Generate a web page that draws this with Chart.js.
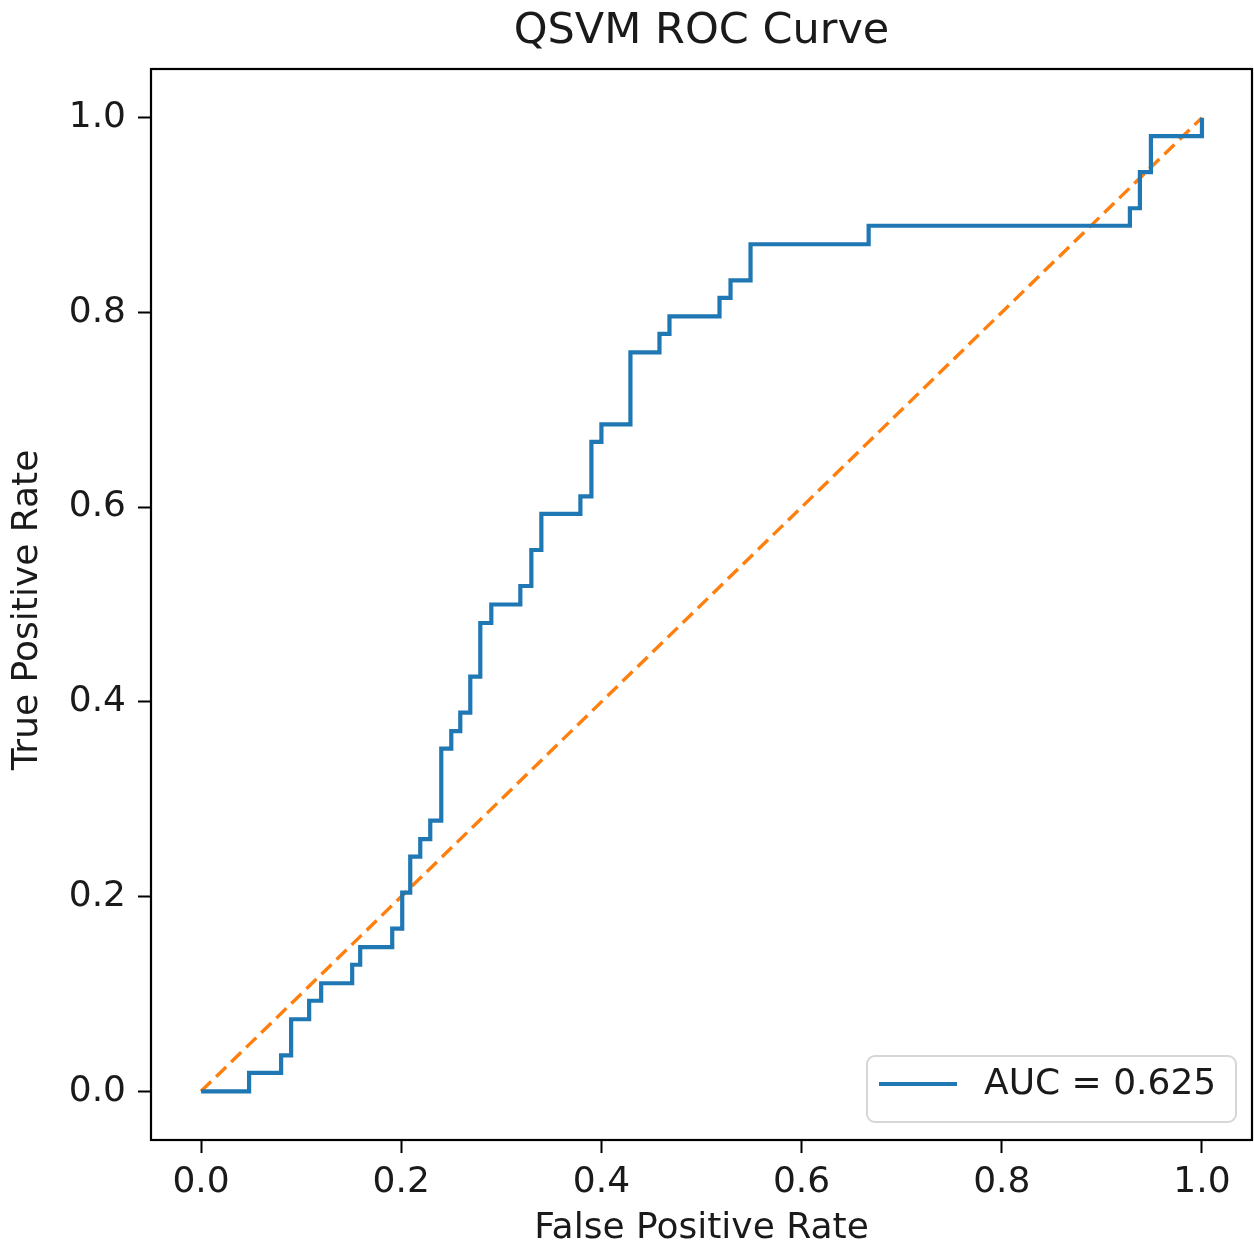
<!DOCTYPE html>
<html>
<head>
<meta charset="utf-8">
<script src="https://cdn.jsdelivr.net/npm/chart.js@4"></script>
<style>
  html, body { margin: 0; padding: 0; background: #fff; }
  #roc { display: block; }
</style>
</head>
<body>
<canvas id="roc" width="1254" height="1248"></canvas>
<script>
/* ===============================
   DATA
================================ */
const fpr = [
  0.000, 0.048, 0.048, 0.080, 0.080, 0.090, 0.090, 0.108, 0.108, 0.120,
  0.120, 0.151, 0.151, 0.159, 0.159, 0.191, 0.191, 0.201, 0.201, 0.209,
  0.209, 0.219, 0.219, 0.229, 0.229, 0.240, 0.240, 0.250, 0.250, 0.259,
  0.259, 0.269, 0.269, 0.279, 0.279, 0.290, 0.290, 0.319, 0.319, 0.330,
  0.330, 0.340, 0.340, 0.379, 0.379, 0.390, 0.390, 0.400, 0.400, 0.429,
  0.429, 0.458, 0.458, 0.468, 0.468, 0.518, 0.518, 0.529, 0.529, 0.549,
  0.549, 0.667, 0.667, 0.928, 0.928, 0.938, 0.938, 0.949, 0.949, 1.000,
  1.000
];
const tpr = [
  0.000, 0.000, 0.019, 0.019, 0.037, 0.037, 0.074, 0.074, 0.093, 0.093,
  0.111, 0.111, 0.130, 0.130, 0.148, 0.148, 0.167, 0.167, 0.204, 0.204,
  0.241, 0.241, 0.259, 0.259, 0.278, 0.278, 0.352, 0.352, 0.370, 0.370,
  0.389, 0.389, 0.426, 0.426, 0.481, 0.481, 0.500, 0.500, 0.519, 0.519,
  0.556, 0.556, 0.593, 0.593, 0.611, 0.611, 0.667, 0.667, 0.685, 0.685,
  0.759, 0.759, 0.778, 0.778, 0.796, 0.796, 0.815, 0.815, 0.833, 0.833,
  0.870, 0.870, 0.889, 0.889, 0.907, 0.907, 0.944, 0.944, 0.981, 0.981,
  1.000
];
const chanceX = [0, 1];
const chanceY = [0, 1];
const tickValues = [0, 0.2, 0.4, 0.6, 0.8, 1.0];
const aucLabel = "AUC = 0.625";

/* ===============================
   STYLE CONSTANTS
================================ */
const FONT = "'DejaVu Sans', sans-serif";
const TEXT = "#1a1a1a";
const BLUE = "#1f77b4";
const ORANGE = "#ff7f0e";
const AREA = { left: 151, right: 1252, top: 69, bottom: 1140 };

/* ===============================
   PLUGINS
================================ */
// frame round the plot, title, axis labels, legend box
const decorations = {
  id: "decorations",
  afterDraw(chart) {
    const ctx = chart.ctx;
    const a = chart.chartArea;
    ctx.save();

    ctx.strokeStyle = "#000";
    ctx.lineWidth = 2.2;
    ctx.strokeRect(a.left, a.top, a.right - a.left, a.bottom - a.top);

    ctx.fillStyle = TEXT;
    ctx.textAlign = "center";
    ctx.textBaseline = "middle";
    ctx.font = "43px " + FONT;
    ctx.fillText("QSVM ROC Curve", (a.left + a.right) / 2, 32);

    ctx.font = "36px " + FONT;
    ctx.fillText("False Positive Rate", (a.left + a.right) / 2, 1229);

    ctx.save();
    ctx.translate(28, 610);
    ctx.rotate(-Math.PI / 2);
    ctx.fillText("True Positive Rate", 0, 0);
    ctx.restore();

    // legend
    const lx = 867, ly = 1056, lw = 369, lh = 66, r = 8;
    ctx.beginPath();
    ctx.moveTo(lx + r, ly);
    ctx.arcTo(lx + lw, ly, lx + lw, ly + lh, r);
    ctx.arcTo(lx + lw, ly + lh, lx, ly + lh, r);
    ctx.arcTo(lx, ly + lh, lx, ly, r);
    ctx.arcTo(lx, ly, lx + lw, ly, r);
    ctx.closePath();
    ctx.fillStyle = "rgba(255,255,255,0.8)";
    ctx.fill();
    ctx.strokeStyle = "#d6d6d6";
    ctx.lineWidth = 2;
    ctx.stroke();

    ctx.strokeStyle = BLUE;
    ctx.lineWidth = 4.2;
    ctx.beginPath();
    ctx.moveTo(879, 1084);
    ctx.lineTo(957, 1084);
    ctx.stroke();

    ctx.fillStyle = TEXT;
    ctx.textAlign = "left";
    ctx.font = "36px " + FONT;
    ctx.fillText(aucLabel, 984, 1085);

    ctx.restore();
  },
};

/* ===============================
   CHART
================================ */
const curvePoints = fpr.map((x, i) => ({ x: x, y: tpr[i] }));
const chancePoints = chanceX.map((x, i) => ({ x: x, y: chanceY[i] }));

const axisCommon = {
  type: "linear",
  min: -0.05,
  max: 1.05,
  afterBuildTicks: (scale) => {
    scale.ticks = tickValues.map((v) => ({ value: v }));
  },
  grid: {
    display: true,
    drawOnChartArea: false,
    drawTicks: true,
    tickLength: 13,
    tickWidth: 2,
    tickColor: "#000",
  },
  border: { display: true, color: "#000", width: 2 },
};

new Chart(document.getElementById("roc"), {
  type: "scatter",
  data: {
    datasets: [
      {
        label: aucLabel,
        data: curvePoints,
        showLine: true,
        borderColor: BLUE,
        borderWidth: 4.2,
        pointRadius: 0,
        fill: false,
        order: 1,
      },
      {
        label: "chance",
        data: chancePoints,
        showLine: true,
        borderColor: ORANGE,
        borderWidth: 3.4,
        borderDash: [14, 7],
        pointRadius: 0,
        fill: false,
        order: 2,
      },
    ],
  },
  options: {
    responsive: false,
    animation: false,
    devicePixelRatio: 1,
    layout: { padding: { top: AREA.top, right: 1254 - AREA.right, left: 0, bottom: 0 } },
    plugins: {
      legend: { display: false },
      title: { display: false },
      tooltip: { enabled: false },
    },
    scales: {
      x: {
        ...axisCommon,
        position: "bottom",
        ticks: {
          color: TEXT,
          padding: 8,
          font: { family: FONT, size: 36 },
          callback: (v) => v.toFixed(1),
          maxRotation: 0,
        },
        afterFit: (scale) => {
          scale.height = 1248 - AREA.bottom;
        },
      },
      y: {
        ...axisCommon,
        position: "left",
        ticks: {
          color: TEXT,
          padding: 12,
          font: { family: FONT, size: 36 },
          callback: (v) => v.toFixed(1),
        },
        afterFit: (scale) => {
          scale.width = AREA.left;
        },
      },
    },
  },
  plugins: [decorations],
});
</script>
</body>
</html>
